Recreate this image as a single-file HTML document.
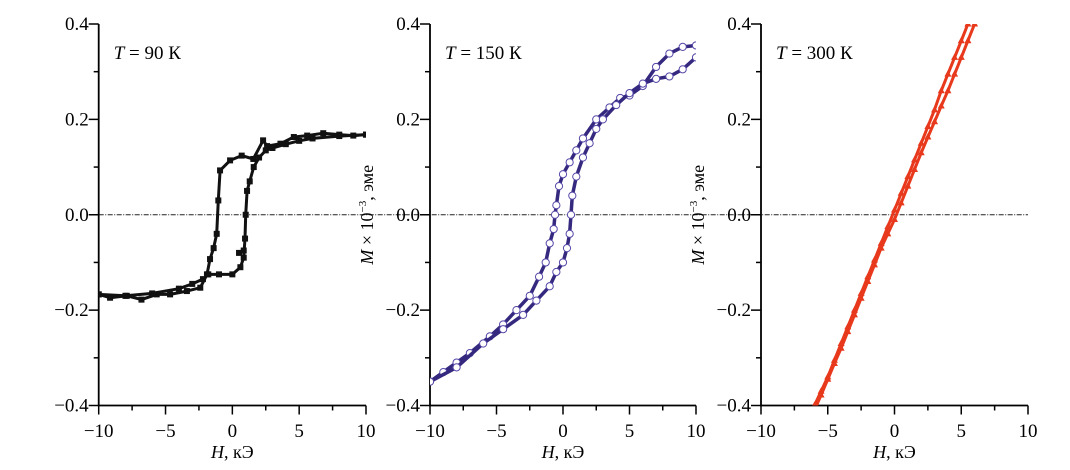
<!DOCTYPE html>
<html><head><meta charset="utf-8"><style>
body{margin:0;background:#fff;}
svg{display:block;}
text{font-family:"Liberation Serif","Times New Roman","DejaVu Serif","Noto Serif CJK SC",serif;}
</style></head><body>
<svg id="chart" width="1070" height="470" viewBox="0 0 1070 470"></svg>
<script>
const xTicks=[-10,-5,0,5,10];
const yTicks=[-0.4,-0.2,0.0,0.2,0.4];
const yTickLabels=["\u22120.4","\u22120.2","0.0","0.2","0.4"];
const xTickLabels=["\u221210","\u22125","0","5","10"];
const panelTitles=["90","150","300"];
// Panel 1 (90 K)
const p1DownH=[10,9.05,8,6.8,5.6,4.6,3.6,2.6,2.3,1.57,0.7,-0.17,-0.92,-1.05,-1.17,-1.4,-1.67,-1.9,-2.4,-3.4,-4.66,-5.66,-6.8,-7.9,-9.15,-10];
const p1DownM=[0.168,0.166,0.168,0.171,0.166,0.163,0.149,0.144,0.156,0.117,0.124,0.114,0.093,0.03,-0.04,-0.07,-0.093,-0.125,-0.153,-0.16,-0.167,-0.167,-0.178,-0.17,-0.174,-0.167];
const p1UpH=[-10,-8,-6,-4,-3,-2.2,-1.8,-1,0,0.6,0.85,0.95,1.0,1.1,1.3,1.6,2.0,2.5,3,4,5,6,8,10];
const p1UpM=[-0.167,-0.17,-0.165,-0.155,-0.145,-0.135,-0.125,-0.125,-0.125,-0.11,-0.09,-0.05,0.0,0.05,0.07,0.1,0.12,0.135,0.14,0.148,0.155,0.16,0.165,0.168];
const p1InitH=[0.5,0.85];
const p1InitM=[-0.08,-0.075];
// Panel 2 (150 K)
const p2DownH=[10,9,8,7,6,5,4.3,3.5,2.5,1.5,1.0,0.5,0,-0.3,-0.5,-0.6,-0.7,-1.0,-1.3,-1.8,-2.5,-3.5,-4.5,-5.5,-7,-8,-9,-10];
const p2DownM=[0.355,0.352,0.338,0.31,0.27,0.25,0.245,0.225,0.2,0.16,0.135,0.11,0.085,0.06,0.02,0.0,-0.03,-0.06,-0.1,-0.13,-0.17,-0.2,-0.23,-0.255,-0.29,-0.31,-0.33,-0.35];
const p2UpH=[-10,-8,-6,-4.5,-3,-2,-1,-0.5,0,0.3,0.5,0.6,0.7,1.0,1.5,2,2.5,3,4,5,6,7,8,9,10];
const p2UpM=[-0.35,-0.32,-0.27,-0.24,-0.21,-0.18,-0.15,-0.12,-0.1,-0.07,-0.04,0.0,0.04,0.08,0.12,0.15,0.18,0.2,0.23,0.255,0.275,0.285,0.29,0.305,0.33];
// Panel 3 (300 K)
const p3DownH=[5.5,5,4.5,4,3.5,3,2.5,2,1.5,1,0.5,0,-0.5,-1,-1.5,-2,-2.5,-3,-3.5,-4,-4.5,-5,-5.5,-6];
const p3DownM=[0.4,0.365,0.33,0.295,0.26,0.22,0.185,0.15,0.115,0.08,0.045,0.01,-0.025,-0.06,-0.095,-0.13,-0.165,-0.2,-0.235,-0.27,-0.305,-0.34,-0.37,-0.4];
const p3UpH=[-6,-5.5,-5,-4.5,-4,-3.5,-3,-2.5,-2,-1.5,-1,-0.5,0,0.5,1,1.5,2,2.5,3,3.5,4,4.5,5,5.5,6];
const p3UpM=[-0.41,-0.378,-0.345,-0.312,-0.28,-0.245,-0.21,-0.175,-0.14,-0.105,-0.07,-0.04,-0.01,0.025,0.06,0.095,0.13,0.163,0.195,0.228,0.26,0.295,0.33,0.365,0.4];

const NS="http://www.w3.org/2000/svg";
const svg=document.getElementById('chart');
function mk(tag,attrs,parent){const e=document.createElementNS(NS,tag);for(const k in attrs)e.setAttribute(k,attrs[k]);(parent||svg).appendChild(e);return e;}
const yTop=24,yBot=405.5;
function sy(m){return yBot-(m+0.4)/0.8*(yBot-yTop);}
const panels=[{x0:98.7,x1:366},{x0:430,x1:696},{x0:761,x1:1028}];

const zl=mk('line',{x1:98.7,x2:1028,y1:sy(0),y2:sy(0),stroke:'#222','stroke-width':1.1,'stroke-dasharray':'5,1.5,1,1.5'});



panels.forEach((p,i)=>{
  const sx=h=>p.x0+(h+10)/20*(p.x1-p.x0);
  p.sx=sx;
  const g=mk('g',{});
  
  
  const ax=mk('path',{d:`M${p.x0},${yTop} V${yBot} H${p.x1}`,fill:'none',stroke:'#000','stroke-width':1.8},g);
  
  
  for(let v=-0.4;v<=0.401;v+=0.1){
    const major=Math.abs(Math.round(v*10))%2===0;
    mk('line',{x1:p.x0-(major?10:5),x2:p.x0,y1:sy(v),y2:sy(v),stroke:'#000','stroke-width':1.5},g);
  }
  for(let h=-10;h<=10;h+=2.5){
    const major=Math.abs(h%5)<0.01;
    mk('line',{x1:sx(h),x2:sx(h),y1:yBot,y2:yBot+(major?9:5),stroke:'#000','stroke-width':1.5},g);
  }
  yTicks.forEach((v,j)=>{
    const t=mk('text',{x:p.x0-10,y:sy(v)+6,'text-anchor':'end','font-size':19},g);
    t.textContent=yTickLabels[j];
    
    
  });
  xTicks.forEach((v,j)=>{
    const t=mk('text',{x:sx(v),y:437,'text-anchor':'middle','font-size':19},g);
    t.textContent=xTickLabels[j];
    
    
  });
  const xt=mk('text',{x:sx(0),y:458,'text-anchor':'middle','font-size':18},g);
  xt.innerHTML='<tspan font-style="italic">H</tspan>, кЭ';
  
  
  const tt=mk('text',{x:p.x0+15,y:59,'font-size':19},g);
  tt.innerHTML='<tspan font-style="italic">T</tspan> = '+panelTitles[i]+' К';
  
  
  if(i>0){
    const yl=mk('text',{transform:`translate(${p.x0-57},${sy(0)}) rotate(-90)`,'text-anchor':'middle','font-size':18},g);
    yl.innerHTML='<tspan font-style="italic">M</tspan> × 10<tspan dy="-7" font-size="11">−3</tspan><tspan dy="7">, эме</tspan>';
    
    
  }
  const cp=mk('clipPath',{id:'clip'+i},g);
  mk('rect',{x:p.x0,y:yTop,width:p.x1-p.x0,height:yBot-yTop},cp);
});

function series(pi,H,M,color,marker,name,lw){
  const p=panels[pi];
  const g=mk('g',{'clip-path':`url(#clip${pi})`});
  
  
  const d=H.map((h,k)=>(k?'L':'M')+p.sx(h).toFixed(1)+','+sy(M[k]).toFixed(1)).join(' ');
  mk('path',{d:d,fill:'none',stroke:color,'stroke-width':lw,'stroke-linejoin':'round'},g);
  H.forEach((h,k)=>{
    const x=p.sx(h),y=sy(M[k]);
    let m;
    if(marker==='square')m=mk('rect',{x:x-3,y:y-3,width:6,height:6,fill:color},g);
    else if(marker==='circle')m=mk('circle',{cx:x,cy:y,r:3.6,fill:'#fff',stroke:'#5548a8','stroke-width':1},g);
    else m=mk('path',{d:`M${x},${y-4} L${x+3.5},${y+2.5} L${x-3.5},${y+2.5} Z`,fill:color},g);
    
    
  });
}
series(0,p1DownH,p1DownM,'#111','square','series-90k-descending',3);
series(0,p1UpH,p1UpM,'#111','square','series-90k-ascending',3);
series(0,p1InitH,p1InitM,'#111','square','series-90k-initial',3);
series(1,p2DownH,p2DownM,'#35297f','circle','series-150k-descending',3.5);
series(1,p2UpH,p2UpM,'#35297f','circle','series-150k-ascending',3.5);
series(2,p3DownH,p3DownM,'#e8391d','triangle','series-300k-descending',3);
series(2,p3UpH,p3UpM,'#e8391d','triangle','series-300k-ascending',3);
</script>
</body></html>
